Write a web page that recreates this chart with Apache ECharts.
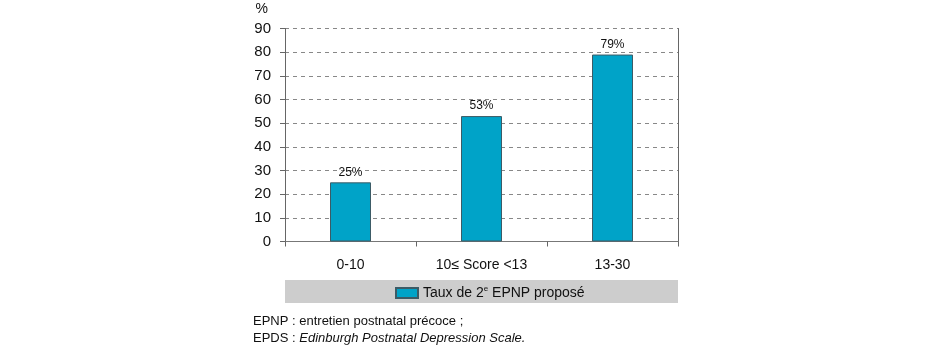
<!DOCTYPE html>
<html><head><meta charset="utf-8">
<script src="https://cdn.jsdelivr.net/npm/echarts@6/dist/echarts.min.js"></script>
<style>html,body{margin:0;padding:0;background:#fff}#c{width:934px;height:346px}</style>
</head><body><div id="c"></div>
<script>
var categories = ['0-10', '10\u2264 Score <13', '13-30'];
var values = [25, 53, 79];
var yTicks = [0, 10, 20, 30, 40, 50, 60, 70, 80, 90];
var seriesName = 'Taux de 2e EPNP propos\u00e9';
var FONT = '"Liberation Sans", Arial, sans-serif';

var chart = echarts.init(document.getElementById('c'));
chart.setOption({
  animation: false,
  textStyle: { fontFamily: FONT },
  grid: { left: 285, right: 256, top: 28.5, bottom: 104.5 },
  xAxis: {
    type: 'category', data: categories,
    axisLine: { lineStyle: { color: '#777', width: 1 } },
    axisTick: { show: true, length: 5, lineStyle: { color: '#666' } },
    axisLabel: { color: '#111', fontSize: 14, fontFamily: FONT, margin: 17 }
  },
  yAxis: [{
    type: 'value', min: yTicks[0], max: yTicks[yTicks.length - 1], interval: 10,
    name: '%', nameLocation: 'end', nameGap: 12,
    nameTextStyle: { color: '#111', fontSize: 14, fontFamily: FONT, align: 'right', padding: [0, 17, 0, 0] },
    axisLine: { show: true, lineStyle: { color: '#666' } },
    axisTick: { show: true, length: 5, lineStyle: { color: '#666' } },
    axisLabel: { color: '#111', fontSize: 15, fontFamily: FONT, margin: 14 },
    splitLine: { show: true, lineStyle: { color: '#888', type: [4, 4] } }
  }, {
    type: 'value', min: 0, max: 90, interval: 10, position: 'right',
    axisLine: { show: true, lineStyle: { color: '#666' } },
    axisTick: { show: false }, axisLabel: { show: false }, splitLine: { show: false }
  }],
  legend: {
    data: [seriesName], top: 280, left: 390,
    itemWidth: 22, itemHeight: 10, itemGap: 9, icon: 'rect',
    formatter: function () { return '{t|Taux de 2}{s|e}{t| EPNP propos\u00e9}'; },
    textStyle: {
      color: '#111', fontFamily: FONT,
      rich: {
        t: { fontSize: 14, fontFamily: FONT, color: '#111', lineHeight: 16 },
        s: { fontSize: 8, fontFamily: FONT, color: '#111', verticalAlign: 'top', lineHeight: 16 }
      }
    }
  },
  graphic: [
    { type: 'rect', z: -1, shape: { x: 285, y: 280, width: 393, height: 23 }, style: { fill: '#cdcdcd' } },
    { type: 'text', left: 253, top: 315, style: { text: 'EPNP : entretien postnatal pr\u00e9coce ;', font: '13px ' + FONT, fill: '#111' } },
    { type: 'text', left: 253, top: 332, style: {
      text: '{n|EPDS : }{i|Edinburgh Postnatal Depression Scale.}',
      rich: {
        n: { font: '13px ' + FONT, fill: '#111' },
        i: { font: 'italic 13px ' + FONT, fill: '#111' }
      }
    } }
  ],
  series: [{
    name: seriesName, type: 'bar', data: values, barWidth: 41,
    itemStyle: { color: '#00a3c8', borderColor: '#3c5b66', borderWidth: 1 },
    label: { show: true, position: 'top', distance: 4, formatter: '{c}%', color: '#111', fontSize: 12, fontFamily: FONT }
  }]
});
</script></body></html>
